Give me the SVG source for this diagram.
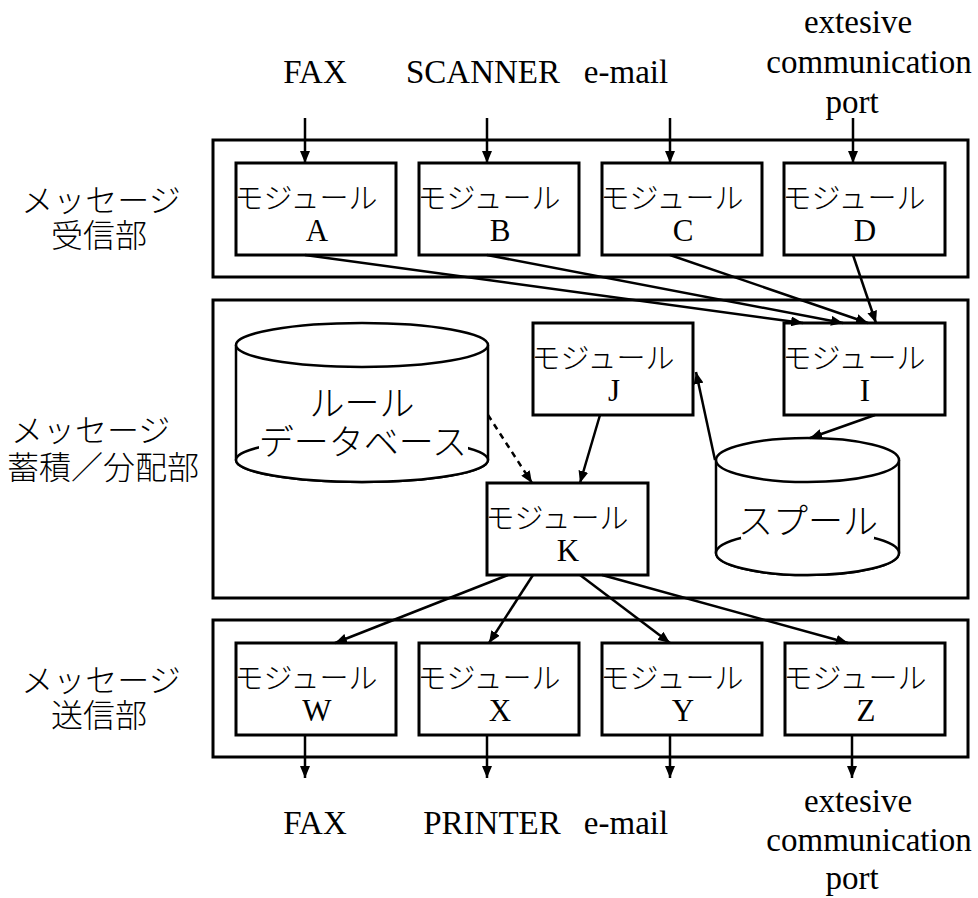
<svg xmlns="http://www.w3.org/2000/svg" width="978" height="898" viewBox="0 0 978 898">
<style>
.box{fill:#fff;stroke:#000;stroke-width:3}
.cont{fill:none;stroke:#000;stroke-width:3}
.cyl{fill:#fff;stroke:#000;stroke-width:2.5}
.jp{font-family:"Noto Sans CJK JP","Noto Sans",sans-serif;font-weight:300;fill:#000}
.en{font-family:"Liberation Serif","Times New Roman",serif;fill:#000}
.mj{font-size:29px}
.ml{font-size:31px;text-anchor:middle}
.lbl{font-size:32px}
.io{font-size:33px;text-anchor:middle}
.conn line{stroke:#000;stroke-width:2.5;marker-end:url(#ah)}
</style>
<defs>
<marker id="ah" viewBox="0 0 12 10" refX="12" refY="5" markerWidth="12" markerHeight="10" markerUnits="userSpaceOnUse" orient="auto">
<path d="M0,0 L12,5 L0,10 z" fill="#000"/>
</marker>
</defs>
<rect width="978" height="898" fill="#fff"/>

<!-- containers -->
<g id="recv"><rect class="cont" x="213" y="140" width="755" height="137"/>
<text class="jp lbl" x="101" y="212" text-anchor="middle">メッセージ</text>
<text class="jp lbl" x="99" y="247" text-anchor="middle">受信部</text></g>
<g id="store"><rect class="cont" x="213" y="300" width="755" height="298"/>
<text class="jp lbl" x="11" y="442">メッセージ</text>
<text class="jp lbl" x="7" y="479">蓄積／分配部</text></g>
<g id="send"><rect class="cont" x="213" y="620" width="755" height="137"/>
<text class="jp lbl" x="101" y="692" text-anchor="middle">メッセージ</text>
<text class="jp lbl" x="99" y="727" text-anchor="middle">送信部</text></g>

<!-- io labels -->
<g id="in-labels">
<text class="en io" x="315" y="83">FAX</text>
<text class="en io" x="483" y="83">SCANNER</text>
<text class="en io" x="626" y="83">e-mail</text>
<text class="en io" x="858" y="33">extesive</text>
<text class="en io" x="869" y="73">communication</text>
<text class="en io" x="852" y="113">port</text>
</g>
<g id="out-labels">
<text class="en io" x="315" y="834">FAX</text>
<text class="en io" x="492" y="834">PRINTER</text>
<text class="en io" x="626" y="834">e-mail</text>
<text class="en io" x="858" y="812">extesive</text>
<text class="en io" x="869" y="851">communication</text>
<text class="en io" x="852" y="889">port</text>
</g>

<!-- modules -->
<g id="modA"><rect class="box" x="236" y="163" width="160" height="92"/><text class="jp mj" x="306" y="209" text-anchor="middle">モジュール</text><text class="en ml" x="317" y="241">A</text></g>
<g id="modB"><rect class="box" x="419" y="163" width="160" height="92"/><text class="jp mj" x="489" y="209" text-anchor="middle">モジュール</text><text class="en ml" x="500" y="241">B</text></g>
<g id="modC"><rect class="box" x="602" y="163" width="160" height="92"/><text class="jp mj" x="672" y="209" text-anchor="middle">モジュール</text><text class="en ml" x="683" y="241">C</text></g>
<g id="modD"><rect class="box" x="784" y="163" width="161" height="92"/><text class="jp mj" x="854" y="209" text-anchor="middle">モジュール</text><text class="en ml" x="865" y="241">D</text></g>

<g id="modJ"><rect class="box" x="533" y="323" width="160" height="92"/><text class="jp mj" x="603" y="369" text-anchor="middle">モジュール</text><text class="en ml" x="614" y="401">J</text></g>
<g id="modI"><rect class="box" x="784" y="323" width="161" height="92"/><text class="jp mj" x="854" y="369" text-anchor="middle">モジュール</text><text class="en ml" x="865" y="401">I</text></g>
<g id="modK"><rect class="box" x="487" y="483" width="161" height="92"/><text class="jp mj" x="557" y="529" text-anchor="middle">モジュール</text><text class="en ml" x="568" y="561">K</text></g>

<g id="ruledb">
<path class="cyl" d="M236,345 L236,460 A126,22 0 0 0 488,460 L488,345"/>
<ellipse class="cyl" cx="362" cy="460" rx="126" ry="22"/>
<ellipse class="cyl" cx="362" cy="345" rx="126" ry="22"/>
<rect x="259" y="424" width="209" height="34" fill="#fff"/>
<text class="jp" font-size="35" x="362" y="416" text-anchor="middle">ルール</text>
<text class="jp" font-size="35" x="363" y="455" text-anchor="middle">データベース</text>
</g>

<g id="spool">
<path class="cyl" d="M716,460 L716,553 A91.5,22 0 0 0 899,553 L899,460"/>
<ellipse class="cyl" cx="807.5" cy="553" rx="91.5" ry="22"/>
<ellipse class="cyl" cx="807.5" cy="460" rx="91.5" ry="22"/>
<rect x="741" y="507" width="133" height="32" fill="#fff"/>
<text class="jp" font-size="35" x="808" y="534" text-anchor="middle">スプール</text>
</g>

<g id="modW"><rect class="box" x="236" y="643" width="160" height="92"/><text class="jp mj" x="306" y="689" text-anchor="middle">モジュール</text><text class="en ml" x="317" y="721">W</text></g>
<g id="modX"><rect class="box" x="419" y="643" width="160" height="92"/><text class="jp mj" x="489" y="689" text-anchor="middle">モジュール</text><text class="en ml" x="500" y="721">X</text></g>
<g id="modY"><rect class="box" x="602" y="643" width="160" height="92"/><text class="jp mj" x="672" y="689" text-anchor="middle">モジュール</text><text class="en ml" x="683" y="721">Y</text></g>
<g id="modZ"><rect class="box" x="785" y="643" width="160" height="92"/><text class="jp mj" x="855" y="689" text-anchor="middle">モジュール</text><text class="en ml" x="866" y="721">Z</text></g>

<g id="connectors" class="conn">
<line x1="305" y1="118" x2="305" y2="163"/>
<line x1="487" y1="118" x2="487" y2="163"/>
<line x1="670" y1="118" x2="670" y2="163"/>
<line x1="853" y1="118" x2="853" y2="163"/>
<line x1="305" y1="255" x2="803" y2="323"/>
<line x1="487" y1="255" x2="843" y2="323"/>
<line x1="670" y1="255" x2="868" y2="323"/>
<line x1="853" y1="255" x2="876" y2="323"/>
<line x1="875" y1="415" x2="810" y2="438"/>
<line x1="715" y1="460" x2="696" y2="372"/>
<line x1="600" y1="415" x2="580" y2="483"/>
<line x1="488" y1="415" x2="532" y2="483" stroke-dasharray="6,5"/>
<line x1="508" y1="575" x2="335" y2="643"/>
<line x1="533" y1="575" x2="489" y2="643"/>
<line x1="580" y1="575" x2="670" y2="643"/>
<line x1="602" y1="575" x2="848" y2="643"/>
<line x1="305" y1="735" x2="305" y2="778"/>
<line x1="487" y1="735" x2="487" y2="778"/>
<line x1="670" y1="735" x2="670" y2="778"/>
<line x1="852" y1="735" x2="852" y2="778"/>
</g>
</svg>
